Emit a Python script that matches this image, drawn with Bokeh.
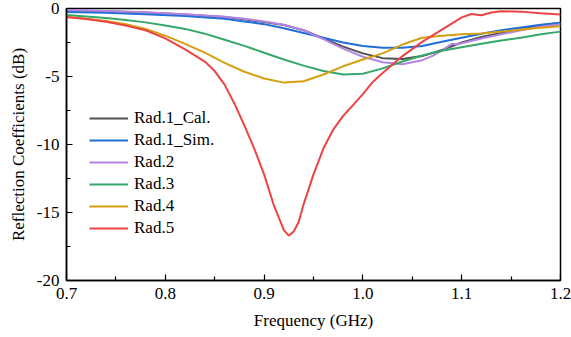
from bokeh.plotting import figure
from bokeh.models import FixedTicker, Legend, LegendItem, Range1d
from bokeh.embed import file_html
from bokeh.resources import INLINE

# ---- data ----
freq_cal = [0.70, 0.74, 0.78, 0.82, 0.86, 0.88, 0.90, 0.92, 0.94, 0.96, 0.98, 1.00, 1.02, 1.04, 1.06, 1.08, 1.10, 1.12, 1.14, 1.16, 1.18, 1.20]
rad1_cal = [-0.12, -0.2, -0.3, -0.45, -0.62, -0.8, -1.0, -1.22, -1.6, -2.2, -2.8, -3.3, -3.65, -3.72, -3.5, -3.05, -2.5, -2.1, -1.8, -1.5, -1.25, -1.05]

freq_sim = [0.70, 0.74, 0.78, 0.82, 0.86, 0.88, 0.90, 0.92, 0.94, 0.96, 0.98, 1.00, 1.02, 1.04, 1.06, 1.08, 1.10, 1.12, 1.14, 1.16, 1.18, 1.20]
rad1_sim = [-0.25, -0.32, -0.42, -0.55, -0.75, -0.95, -1.15, -1.45, -1.8, -2.15, -2.5, -2.75, -2.88, -2.88, -2.75, -2.45, -2.15, -1.85, -1.6, -1.4, -1.2, -1.05]

freq_r2 = [0.70, 0.74, 0.78, 0.82, 0.86, 0.88, 0.90, 0.92, 0.94, 0.96, 0.98, 1.00, 1.02, 1.04, 1.06, 1.07, 1.08, 1.09, 1.095, 1.10, 1.12, 1.14, 1.16, 1.18, 1.20]
rad2 = [-0.1, -0.18, -0.28, -0.42, -0.6, -0.75, -0.95, -1.2, -1.6, -2.25, -2.95, -3.55, -3.95, -4.1, -3.8, -3.5, -3.1, -2.6, -2.65, -2.55, -2.2, -1.9, -1.6, -1.35, -1.15]

freq_r3 = [0.70, 0.72, 0.74, 0.76, 0.78, 0.80, 0.82, 0.84, 0.86, 0.88, 0.90, 0.92, 0.94, 0.96, 0.98, 1.00, 1.02, 1.04, 1.06, 1.08, 1.10, 1.12, 1.14, 1.16, 1.18, 1.20]
rad3 = [-0.48, -0.58, -0.7, -0.85, -1.02, -1.25, -1.5, -1.85, -2.3, -2.75, -3.25, -3.75, -4.2, -4.6, -4.85, -4.8, -4.4, -3.9, -3.45, -3.1, -2.85, -2.6, -2.35, -2.15, -1.9, -1.7]

freq_r4 = [0.70, 0.72, 0.74, 0.76, 0.78, 0.80, 0.82, 0.84, 0.86, 0.88, 0.90, 0.92, 0.94, 0.96, 0.98, 1.00, 1.02, 1.04, 1.06, 1.08, 1.10, 1.12, 1.14, 1.16, 1.18, 1.20]
rad4 = [-0.62, -0.75, -0.92, -1.15, -1.5, -2.0, -2.6, -3.25, -4.0, -4.65, -5.15, -5.45, -5.35, -4.85, -4.25, -3.75, -3.3, -2.65, -2.15, -2.0, -1.9, -1.83, -1.7, -1.55, -1.42, -1.3]

freq_r5 = [0.70, 0.72, 0.74, 0.76, 0.78, 0.80, 0.82, 0.84, 0.85, 0.86, 0.87, 0.88, 0.89, 0.90, 0.91, 0.92, 0.925, 0.93, 0.935, 0.94, 0.95, 0.96, 0.97, 0.98, 0.99, 1.00, 1.01, 1.02, 1.04, 1.06, 1.08, 1.10, 1.11, 1.12, 1.13, 1.14, 1.16, 1.18, 1.20]
rad5 = [-0.62, -0.78, -0.98, -1.25, -1.6, -2.2, -3.0, -3.9, -4.6, -5.6, -7.0, -8.6, -10.3, -12.2, -14.5, -16.3, -16.7, -16.4, -15.7, -14.4, -12.2, -10.3, -8.9, -7.9, -7.1, -6.3, -5.4, -4.75, -3.5, -2.45, -1.55, -0.65, -0.4, -0.5, -0.3, -0.2, -0.23, -0.35, -0.45]

x_ticks = [0.7, 0.8, 0.9, 1.0, 1.1, 1.2]
x_minor = [0.75, 0.85, 0.95, 1.05, 1.15]
x_labels = ["0.7", "0.8", "0.9", "1.0", "1.1", "1.2"]
y_ticks = [-20, -15, -10, -5, 0]
y_minor = [-17.5, -12.5, -7.5, -2.5]
y_labels = ["-20", "-15", "-10", "-5", "0"]

series = [
    ("Rad.1_Cal.", freq_cal, rad1_cal, "#505050"),
    ("Rad.1_Sim.", freq_sim, rad1_sim, "#1f6fd9"),
    ("Rad.2", freq_r2, rad2, "#b384e0"),
    ("Rad.3", freq_r3, rad3, "#36a86a"),
    ("Rad.4", freq_r4, rad4, "#d4a010"),
    ("Rad.5", freq_r5, rad5, "#ec4444"),
]

FONT = "Liberation Serif"
FS = "17px"

p = figure(width=571, height=337, output_backend="svg", toolbar_location=None,
           x_range=Range1d(0.7, 1.2), y_range=Range1d(-20, 0),
           min_border_left=66, min_border_right=11, min_border_top=8, min_border_bottom=57)
p.grid.visible = False
p.outline_line_color = "black"
p.outline_line_width = 1.5
p.background_fill_color = "white"
p.border_fill_color = "white"

items = []
for name, xs, ys, col in series:
    r = p.line(xs, ys, line_color=col, line_width=2)
    items.append(LegendItem(label=name, renderers=[r]))

for ax in (p.xaxis[0], p.yaxis[0]):
    ax.axis_line_color = "black"
    ax.axis_line_width = 1.5
    ax.major_tick_in = 6
    ax.major_tick_out = 0
    ax.minor_tick_in = 4
    ax.minor_tick_out = 0
    ax.major_tick_line_color = "black"
    ax.minor_tick_line_color = "black"
    ax.major_tick_line_width = 1.2
    ax.minor_tick_line_width = 1.2
    ax.major_label_text_font = FONT
    ax.major_label_text_font_size = FS
    ax.major_label_text_color = "black"
    ax.axis_label_text_font = FONT
    ax.axis_label_text_font_size = FS
    ax.axis_label_text_font_style = "normal"
    ax.axis_label_text_color = "black"
    ax.major_label_standoff = 7

p.xaxis[0].ticker = FixedTicker(ticks=x_ticks, minor_ticks=x_minor)
p.yaxis[0].ticker = FixedTicker(ticks=y_ticks, minor_ticks=y_minor)
p.xaxis[0].major_label_overrides = {t: s for t, s in zip(x_ticks, x_labels)}
p.yaxis[0].major_label_overrides = {t: s for t, s in zip(y_ticks, y_labels)}
p.xaxis[0].axis_label = "Frequency (GHz)"
p.yaxis[0].axis_label = "Reflection Coefficients (dB)"
p.xaxis[0].axis_label_standoff = 9
p.yaxis[0].axis_label_standoff = 6

legend = Legend(items=items, location=(23, 42), border_line_color=None,
                background_fill_alpha=0, padding=0, margin=0, spacing=2,
                glyph_width=39, glyph_height=20, label_height=20, label_standoff=6,
                label_text_font=FONT, label_text_font_size=FS, label_text_color="black")
p.add_layout(legend)

open("out.html", "w").write(file_html(p, INLINE))
